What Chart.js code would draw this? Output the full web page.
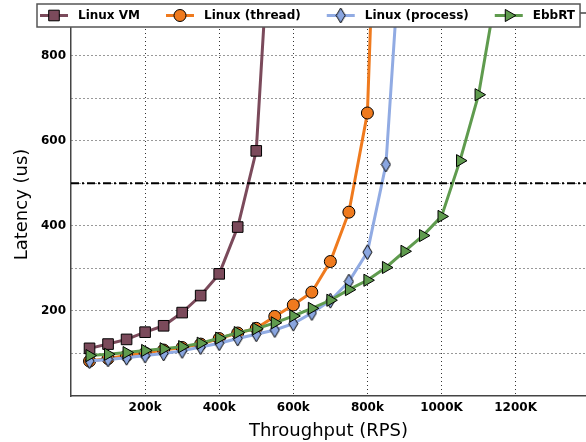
<!DOCTYPE html>
<html>
<head>
<meta charset="utf-8">
<script src="https://cdn.jsdelivr.net/npm/chart.js@4/dist/chart.umd.min.js"></script>
<style>
  html, body { margin: 0; padding: 0; background: #fff; overflow: hidden; }
  canvas { display: block; }
</style>
</head>
<body>
<canvas id="latency" width="586" height="442"></canvas>
<script>
// Offered load (thousand requests per second)
const rps = [50, 100, 150, 200, 250, 300, 350, 400, 450, 500, 550, 600,
             650, 700, 750, 800, 850, 900, 950, 1000, 1050, 1100, 1150];

// Mean latency (us) per configuration, one entry per load step
const linuxVM      = [112, 122, 133, 150, 165, 196, 236, 287, 397, 576, 1300];
const linuxThread  = [82, 88, 95, 101, 108, 114, 122, 135, 148, 159, 187, 214,
                      244, 316, 432, 665, 1900];
const linuxProcess = [82, 86, 90, 95, 100, 106, 115, 124, 135, 145, 155, 170,
                      195, 224, 269, 338, 544, 1200];
const ebbrt        = [95, 98, 102, 107, 111, 116, 124, 136, 149, 158, 172, 188,
                      206, 225, 250, 272, 302, 340, 377, 422, 553, 708, 960];

const seriesNames = ['Linux VM', 'Linux (thread)', 'Linux (process)', 'EbbRT'];

const xTicks      = [200, 400, 600, 800, 1000, 1200];
const xTickLabels = ['200k', '400k', '600k', '800k', '1000K', '1200K'];
const yTicks      = [100, 200, 300, 400, 500, 600, 700, 800];
const yTickLabels = ['', '200', '', '400', '', '600', '', '800'];

const sloLatency = 500;   // latency target drawn as a dash-dot line

const toPoints = vals => vals.map((v, i) => ({ x: rps[i], y: v }));

// Narrow diamond marker (canvas used as point style)
function thinDiamond(w, h, fill) {
  const c = document.createElement('canvas');
  c.width = w + 2; c.height = h + 2;
  const g = c.getContext('2d');
  g.beginPath();
  g.moveTo(c.width / 2, 1);
  g.lineTo(c.width - 1, c.height / 2);
  g.lineTo(c.width / 2, c.height - 1);
  g.lineTo(1, c.height / 2);
  g.closePath();
  g.fillStyle = fill; g.fill();
  g.lineWidth = 1; g.strokeStyle = '#000'; g.stroke();
  return c;
}

const colors = ['#7b4a5b', '#ef7a1e', '#91abe3', '#5f9b4e'];
const markerFill = ['#7b4a5b', '#ef7a1e', '#8aa6e0', '#5f9b4e'];
const markers = [
  { pointStyle: 'rect', radius: 7.5, rotation: 0 },
  { pointStyle: 'circle', radius: 6, rotation: 0 },
  { pointStyle: thinDiamond(9, 15, markerFill[2]), radius: 7, rotation: 0 },
  { pointStyle: 'triangle', radius: 7, rotation: 90 }
];
const seriesValues = [linuxVM, linuxThread, linuxProcess, ebbrt];

const datasets = seriesValues.map((vals, i) => ({
  label: seriesNames[i],
  data: toPoints(vals),
  borderColor: colors[i],
  borderWidth: 3,
  backgroundColor: markerFill[i],
  pointBackgroundColor: markerFill[i],
  pointBorderColor: '#000',
  pointBorderWidth: 1,
  pointStyle: markers[i].pointStyle,
  pointRadius: markers[i].radius,
  pointRotation: markers[i].rotation,
  tension: 0,
  order: 4 - i
}));

datasets.push({
  label: 'target',
  data: [{ x: 0, y: sloLatency }, { x: 1390, y: sloLatency }],
  borderColor: '#000',
  borderWidth: 2,
  borderDash: [8, 3, 2, 3],
  pointRadius: 0,
  order: 0
});

const tickFont = { family: 'DejaVu Sans', size: 12, weight: 'bold' };
const titleFont = { family: 'DejaVu Sans', size: 18, weight: 'normal' };
const gridColor = 'rgba(0,0,0,0.8)';
const spineColor = '#444';

// Top spine and the boxed legend sitting over the top of the plot
const frameAndLegend = {
  id: 'frameAndLegend',
  afterDraw(chart) {
    const { ctx, chartArea } = chart;
    ctx.save();
    ctx.strokeStyle = spineColor;
    ctx.lineWidth = 1.5;
    ctx.beginPath();
    ctx.moveTo(chartArea.left, chartArea.top);
    ctx.lineTo(chartArea.right, chartArea.top);
    ctx.stroke();

    ctx.font = 'bold 12px "DejaVu Sans"';
    const handle = 28, textGap = 10, entryGap = 26;
    const boxLeft = 37, boxTop = 4, boxBottom = 27, startX = 40;
    let x = startX;
    const entries = seriesNames.map(name => {
      const e = { lineX: x, textX: x + handle + textGap, w: ctx.measureText(name).width };
      x = e.textX + e.w + entryGap;
      return e;
    });
    const boxRight = entries[entries.length - 1].textX + entries[entries.length - 1].w + 5;
    ctx.fillStyle = '#fff';
    ctx.fillRect(boxLeft, boxTop, boxRight - boxLeft, boxBottom - boxTop);
    ctx.strokeStyle = '#555';
    ctx.lineWidth = 1.5;
    ctx.strokeRect(boxLeft, boxTop, boxRight - boxLeft, boxBottom - boxTop);

    const cy = (boxTop + boxBottom) / 2;
    entries.forEach((e, i) => {
      ctx.strokeStyle = colors[i];
      ctx.lineWidth = 3;
      ctx.beginPath();
      ctx.moveTo(e.lineX, cy);
      ctx.lineTo(e.lineX + handle, cy);
      ctx.stroke();
      ctx.fillStyle = markerFill[i];
      ctx.strokeStyle = '#000';
      ctx.lineWidth = 1;
      Chart.helpers.drawPoint(ctx, {
        pointStyle: markers[i].pointStyle,
        radius: markers[i].radius,
        rotation: markers[i].rotation,
        borderWidth: 1
      }, e.lineX + handle / 2, cy);
      ctx.fillStyle = '#000';
      ctx.textAlign = 'left';
      ctx.textBaseline = 'middle';
      ctx.fillText(seriesNames[i], e.textX, cy + 0.5);
    });
    ctx.restore();
  }
};

new Chart(document.getElementById('latency'), {
  type: 'line',
  data: { datasets },
  plugins: [frameAndLegend],
  options: {
    responsive: false,
    animation: false,
    devicePixelRatio: 1,
    layout: { autoPadding: false, padding: { top: 13, right: 0, left: 0, bottom: 0 } },
    plugins: { legend: { display: false }, tooltip: { enabled: false } },
    scales: {
      x: {
        type: 'linear',
        min: 0,
        max: 1390,
        afterBuildTicks: s => { s.ticks = xTicks.map(v => ({ value: v })); },
        afterFit: s => { s.height = 46; s.paddingLeft = 0; s.paddingRight = 0; },
        ticks: {
          font: tickFont, color: '#000', padding: 5, maxRotation: 0,
          callback: v => xTickLabels[xTicks.indexOf(v)] ?? ''
        },
        grid: { color: gridColor, lineWidth: 1, drawTicks: false },
        border: { color: spineColor, width: 1.5, dash: [1, 3] },
        title: { display: true, text: 'Throughput (RPS)', font: titleFont, color: '#000', padding: { top: 0, bottom: 0 } }
      },
      y: {
        min: 0,
        max: 900,
        afterBuildTicks: s => { s.ticks = yTicks.map(v => ({ value: v })); },
        afterFit: s => { s.width = 71; s.paddingTop = 0; s.paddingBottom = 0; },
        ticks: {
          font: tickFont, color: '#000', padding: 5,
          callback: v => yTickLabels[yTicks.indexOf(v)] ?? ''
        },
        grid: { color: gridColor, lineWidth: 1, drawTicks: false },
        border: { color: spineColor, width: 1.5, dash: [1, 3] },
        title: { display: true, text: 'Latency (us)', font: titleFont, color: '#000', padding: { top: 12, bottom: 0 } }
      }
    }
  }
});
</script>
</body>
</html>
